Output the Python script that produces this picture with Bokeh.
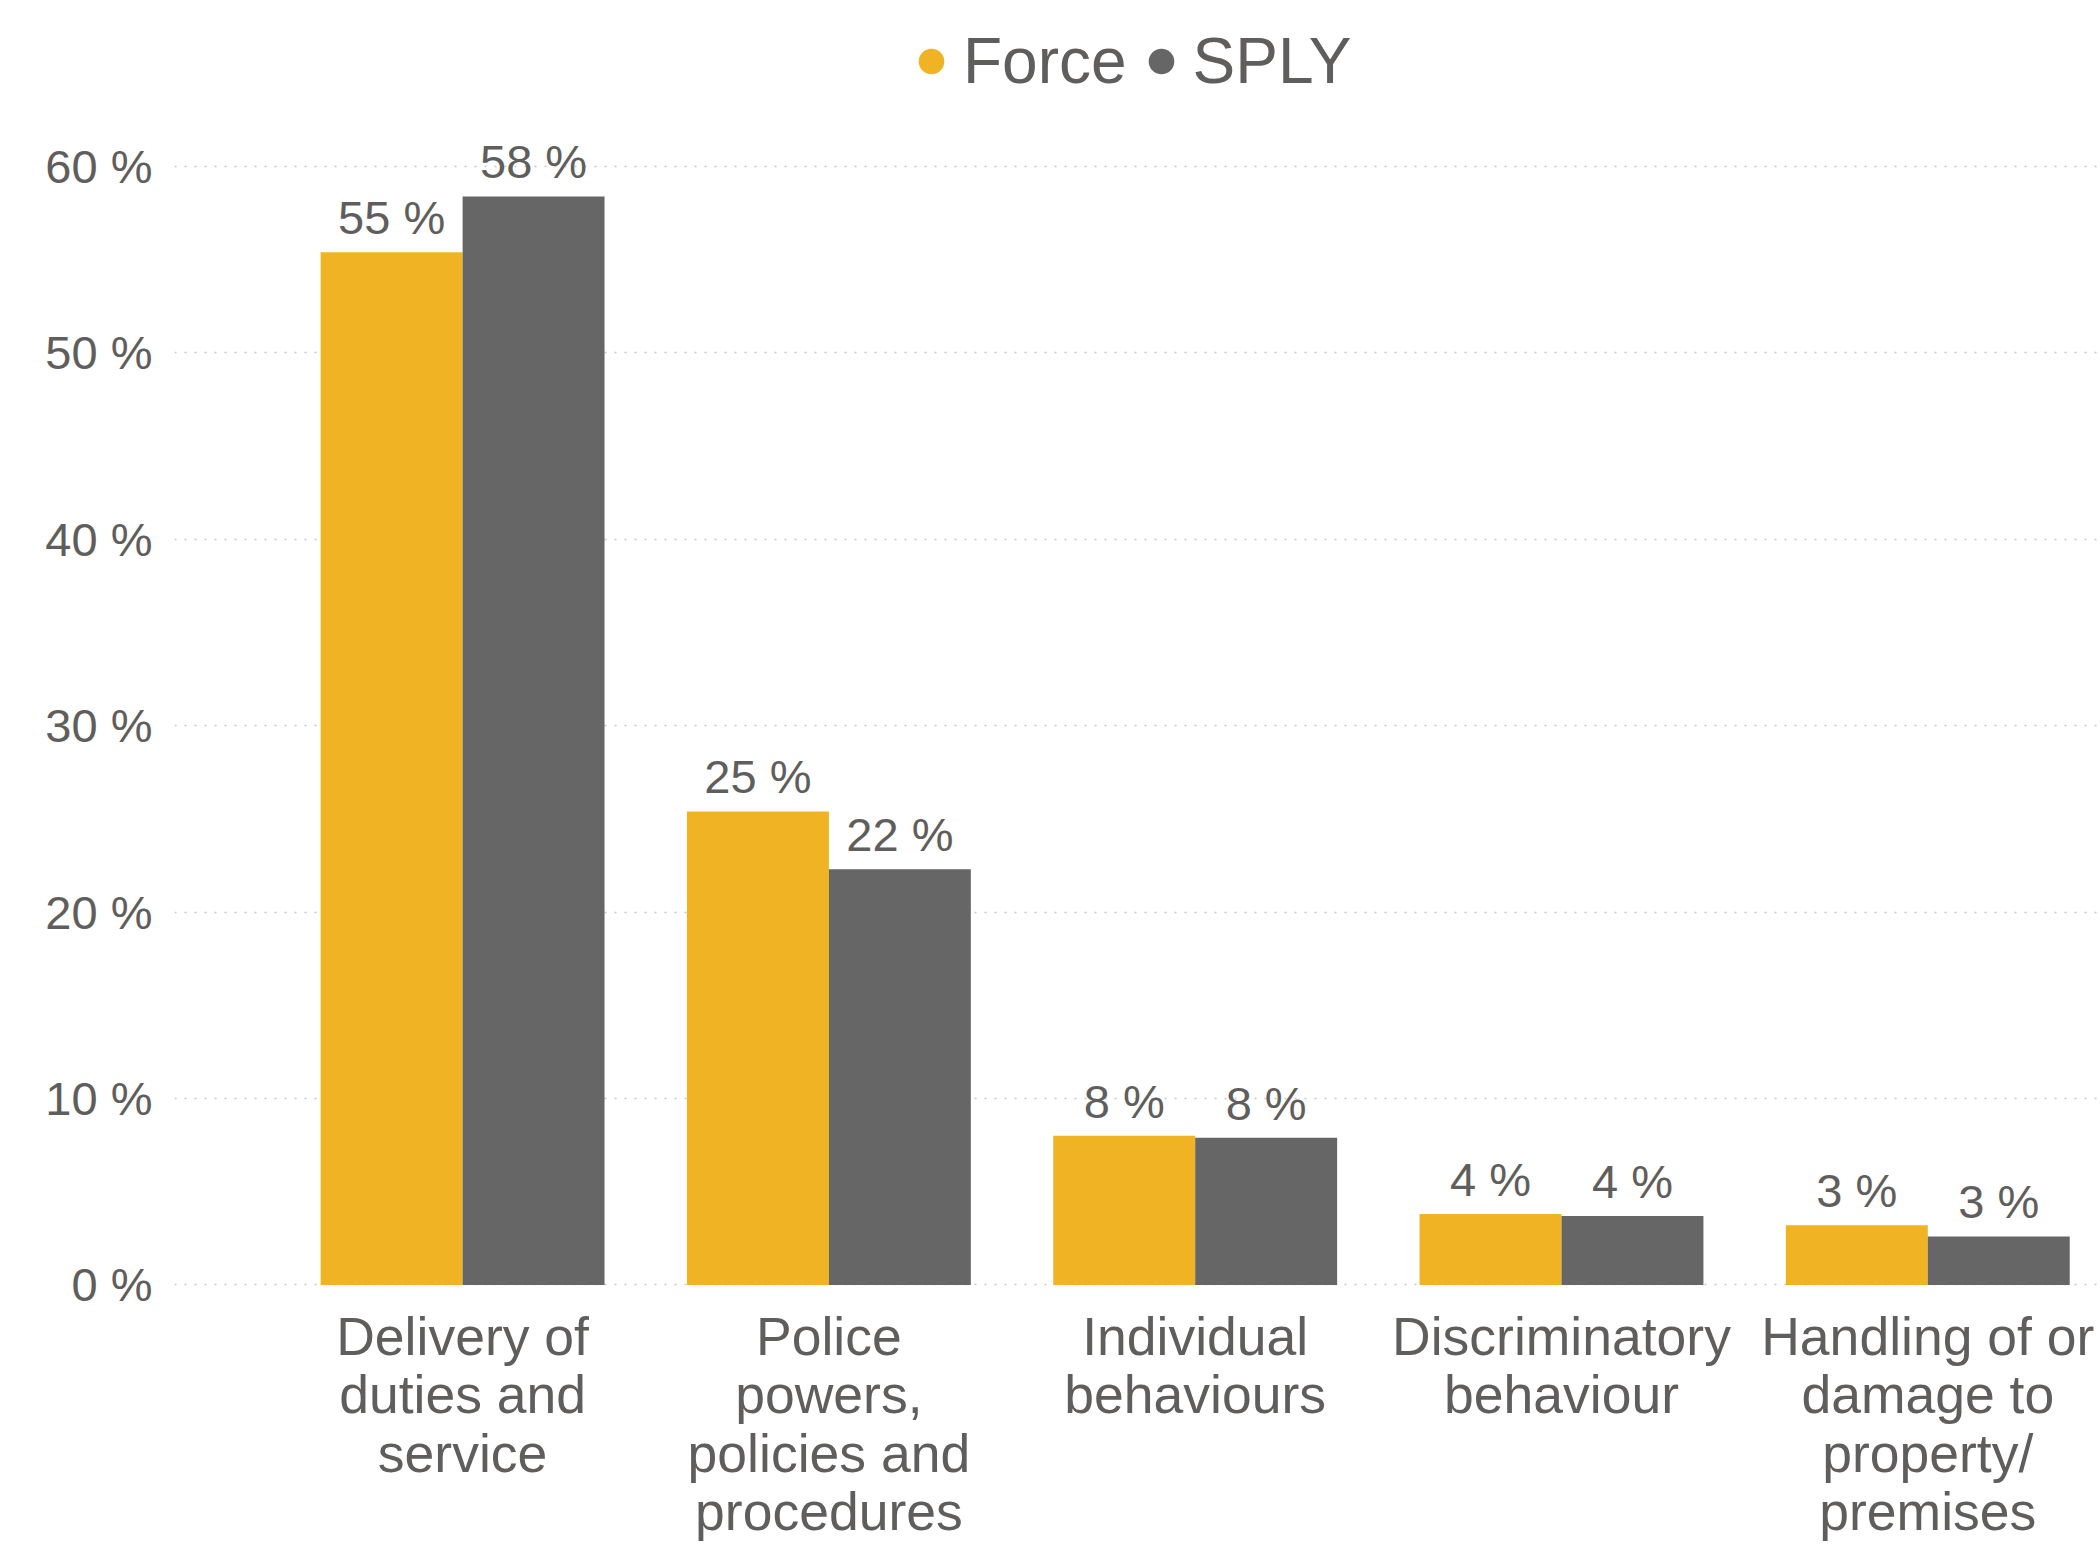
import numpy as np
from bokeh.plotting import figure
from bokeh.models import (ColumnDataSource, LabelSet, Legend, LegendItem,
                          FixedTicker, Range1d)
from bokeh.core.properties import value
from bokeh.embed import file_html
from bokeh.resources import INLINE

# ---- data -------------------------------------------------------------
categories = ["Delivery of duties and service",
              "Police powers, policies and procedures",
              "Individual behaviours",
              "Discriminatory behaviour",
              "Handling of or damage to property/ premises"]
category_label_lines = [["Delivery of", "duties and", "service"],
                        ["Police", "powers,", "policies and", "procedures"],
                        ["Individual", "behaviours"],
                        ["Discriminatory", "behaviour"],
                        ["Handling of or", "damage to", "property/", "premises"]]
series_names = ["Force", "SPLY"]
force = [55.4, 25.4, 8.0, 3.8, 3.2]
sply = [58.4, 22.3, 7.9, 3.7, 2.6]
y_ticks = [0, 10, 20, 30, 40, 50, 60]
y_tick_labels = ["0 %", "10 %", "20 %", "30 %", "40 %", "50 %", "60 %"]

# ---- styles -----------------------------------------------------------
FORCE_COLOR = "#F0B323"
SPLY_COLOR = "#666666"
TEXT_COLOR = "#605E5C"
GRID_COLOR = "#C8C6C4"
FONT = "Liberation Sans"
BAR_W = 0.3875
CAT_FIRST_BASELINE = 70   # px below the 0 line
CAT_LINE_STEP = 58.5      # px between label lines

idx = np.arange(len(categories))
src_force = ColumnDataSource(dict(
    x=idx - BAR_W / 2, top=force,
    label=[f"{round(v)} %" for v in force]))
src_sply = ColumnDataSource(dict(
    x=idx + BAR_W / 2, top=sply,
    label=[f"{round(v)} %" for v in sply]))

line_x, line_text, line_off = [], [], []
for i, lines in enumerate(category_label_lines):
    for k, t in enumerate(lines):
        line_x.append(int(idx[i]))
        line_text.append(t)
        line_off.append(-(CAT_FIRST_BASELINE + k * CAT_LINE_STEP))
src_cat = ColumnDataSource(dict(x=line_x, y=[0] * len(line_x),
                                text=line_text, dy=line_off))

p = figure(width=2100, height=1544,
           x_range=Range1d(-0.7865, 4.4715), y_range=Range1d(-13.929, 68.912),
           output_backend="svg", toolbar_location=None,
           x_axis_location=None,
           min_border_left=174, min_border_right=0,
           min_border_top=0, min_border_bottom=0)
p.outline_line_color = None
p.background_fill_color = "white"
p.border_fill_color = "white"

p.vbar(x="x", top="top", bottom=0, width=BAR_W, source=src_force,
       fill_color=FORCE_COLOR, line_color=None)
p.vbar(x="x", top="top", bottom=0, width=BAR_W, source=src_sply,
       fill_color=SPLY_COLOR, line_color=None)

# data labels
for src in (src_force, src_sply):
    p.add_layout(LabelSet(x="x", y="top", text="label", source=src,
                          text_align="center", text_baseline="alphabetic",
                          y_offset=18, text_font_size=value("47px"),
                          text_font=value(FONT), text_color=TEXT_COLOR))

# category labels (under the 0 line), one entry per wrapped line
p.add_layout(LabelSet(x="x", y="y", text="text", source=src_cat,
                      y_offset="dy",
                      text_align="center", text_baseline="alphabetic",
                      text_font_size=value("53.5px"),
                      text_font=value(FONT), text_color=TEXT_COLOR))

# y axis
p.yaxis.ticker = FixedTicker(ticks=y_ticks)
p.yaxis.major_label_overrides = {t: l for t, l in zip(y_ticks, y_tick_labels)}
p.yaxis.major_label_text_font_size = "47px"
p.yaxis.major_label_text_font = FONT
p.yaxis.major_label_text_color = TEXT_COLOR
p.yaxis.major_label_standoff = 22
p.yaxis.axis_line_color = None
p.yaxis.major_tick_line_color = None
p.yaxis.minor_tick_line_color = None
p.yaxis.major_tick_out = 0
p.yaxis.major_tick_in = 0

p.xgrid.grid_line_color = None
p.ygrid.ticker = FixedTicker(ticks=y_ticks)
p.ygrid.grid_line_color = GRID_COLOR
p.ygrid.grid_line_dash = "2 8"
p.ygrid.grid_line_width = 1.5

# legend (markers of size 0 so only the legend shows them)
r_force = p.scatter(x="x", y="top", source=src_force, size=0, marker="circle",
                    fill_color=FORCE_COLOR, line_color=None)
r_sply = p.scatter(x="x", y="top", source=src_sply, size=0, marker="circle",
                   fill_color=SPLY_COLOR, line_color=None)
legend = Legend(items=[LegendItem(label=series_names[0], renderers=[r_force]),
                       LegendItem(label=series_names[1], renderers=[r_sply])],
                orientation="horizontal", location=(725, 1446),
                glyph_width=64, glyph_height=72, label_standoff=0,
                spacing=2, padding=10, margin=0,
                border_line_color=None, background_fill_alpha=0,
                label_text_font_size="64px", label_text_font=FONT,
                label_text_color=TEXT_COLOR)
p.add_layout(legend)

open("out.html", "w").write(file_html(p, INLINE))
